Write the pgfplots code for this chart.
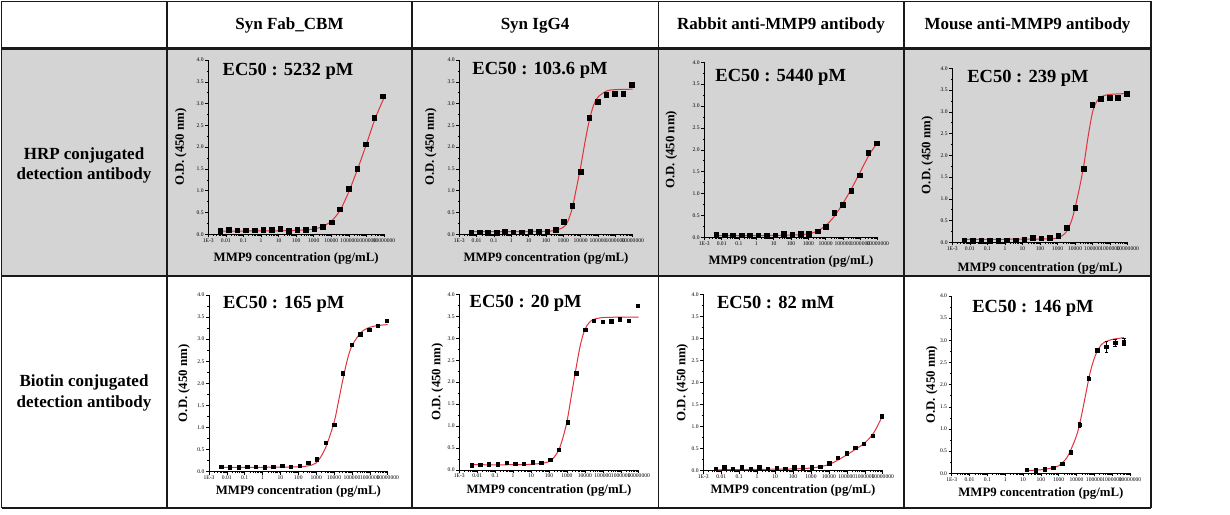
\documentclass[border=0pt]{standalone}
\usepackage{pgfplots}
\pgfplotsset{compat=1.18}
\usepackage{fontspec}
\setmainfont{Liberation Serif}
\definecolor{rowgray}{RGB}{212,212,212}
\definecolor{fitred}{RGB}{226,50,60}
\definecolor{tline}{RGB}{25,25,25}

\pgfplotsset{
  odplot/.style={
    scale only axis,
    xmin=1e-3, xmax=1e7, ymin=0, ymax=4,
    axis x line*=bottom, axis y line*=left,
    tick align=outside,
    xtick={1e-3,1e-2,1e-1,1,10,100,1000,1e4,1e5,1e6,1e7},
    xticklabels={1E-3,0.01,0.1,1,10,100,1000,10000,100000,1000000,10000000},
    minor xtick={2e-3,3e-3,4e-3,5e-3,6e-3,7e-3,8e-3,9e-3,
      2e-2,3e-2,4e-2,5e-2,6e-2,7e-2,8e-2,9e-2,
      0.2,0.3,0.4,0.5,0.6,0.7,0.8,0.9,
      2,3,4,5,6,7,8,9,
      20,30,40,50,60,70,80,90,
      200,300,400,500,600,700,800,900,
      2000,3000,4000,5000,6000,7000,8000,9000,
      2e4,3e4,4e4,5e4,6e4,7e4,8e4,9e4,
      2e5,3e5,4e5,5e5,6e5,7e5,8e5,9e5,
      2e6,3e6,4e6,5e6,6e6,7e6,8e6,9e6},
    ytick={0,0.5,1,1.5,2,2.5,3,3.5,4},
    yticklabel style={/pgf/number format/fixed,/pgf/number format/fixed zerofill,/pgf/number format/precision=1},
    tick label style={font=\fontsize{5.6}{6}\selectfont},
    xticklabel style={inner sep=1pt},
    yticklabel style={inner sep=1.5pt},
    major tick length=3pt, minor tick length=1.6pt,
    minor y tick num=1,
    axis line style={line width=0.7pt, black},
    every tick/.style={black, line width=0.5pt},
    xlabel={MMP9 concentration (pg/mL)},
    ylabel={O.D. (450 nm)},
    label style={font=\fontsize{12.8}{14}\selectfont\bfseries},
    xlabel style={at={(axis description cs:0.5,0)}, anchor=base},
    ylabel style={anchor=center},
    clip=false,
  },
  fitcurve/.style={fitred, line width=1pt, smooth, no markers},
  pts1/.style={only marks, mark=square*, mark size=2.3pt, black},
  pts2/.style={only marks, mark=square*, mark size=1.7pt, black},
}

\begin{document}
\begin{tikzpicture}
\useasboundingbox (0pt,0pt) rectangle (1230pt,514pt);
\fill[white] (0pt,0pt) rectangle (1230pt,514pt);
\fill[rowgray] (1.5pt,238pt) rectangle (1151pt,465pt);

% ---------- Row 1 ----------
\begin{semilogxaxis}[odplot, /pgf/number format/assume math mode=true, at={(208.3pt,279.7pt)}, anchor=south west, width=175.7pt, height=174.3pt,
  xlabel style={yshift=-27.4pt}, ylabel style={at={(axis description cs:-0.157,0.5)}}]
\addplot[fitcurve] coordinates {(0.004,0.07) (0.1,0.075) (10,0.08) (100,0.09) (1000,0.12) (3162,0.18) (10000,0.3) (31623,0.55) (100000,0.98) (316228,1.5) (1000000,2.07) (3162278,2.66) (10000000,3.13)};
\addplot[pts1] coordinates {(0.00479,0.08) (0.01469,0.10) (0.0451,0.09) (0.1380,0.09) (0.4236,0.09) (1.300,0.10) (3.990,0.10) (12.24,0.13) (37.50,0.08) (115.1,0.10) (353.2,0.10) (1084,0.13) (3326,0.17) (10190,0.28) (31260,0.58) (95940,1.05) (294400,1.51) (903600,2.07) (2773000,2.68) (8511000,3.17)};
\end{semilogxaxis}

\begin{semilogxaxis}[odplot, /pgf/number format/assume math mode=true, at={(459.3pt,279.7pt)}, anchor=south west, width=173.4pt, height=174.3pt,
  xlabel style={yshift=-27.4pt}, ylabel style={at={(axis description cs:-0.165,0.5)}}]
\addplot[fitcurve] coordinates {(0.004,0.06) (1,0.06) (100,0.07) (316.2,0.09) (1000,0.16) (1778,0.29) (3162,0.58) (5623,1.05) (10000,1.55) (17783,2.12) (31623,2.62) (56234,2.97) (100000,3.15) (316228,3.29) (1000000,3.32) (10000000,3.33)};
\addplot[pts1] coordinates {(0.00479,0.04) (0.01469,0.05) (0.0451,0.04) (0.1380,0.04) (0.4236,0.06) (1.300,0.05) (3.990,0.05) (12.24,0.07) (37.50,0.07) (115.1,0.07) (353.2,0.11) (1084,0.29) (3326,0.66) (10190,1.43) (31260,2.68) (95940,3.04) (294400,3.20) (903600,3.23) (2773000,3.23) (8511000,3.43)};
\end{semilogxaxis}

\begin{semilogxaxis}[odplot, /pgf/number format/assume math mode=true, at={(704.3pt,276.7pt)}, anchor=south west, width=173.4pt, height=175pt,
  xlabel style={yshift=-27.7pt}, ylabel style={at={(axis description cs:-0.19,0.5)}}]
\addplot[fitcurve] coordinates {(0.004,0.04) (1,0.04) (100,0.05) (1000,0.08) (3162,0.14) (10000,0.27) (31623,0.48) (100000,0.78) (316228,1.12) (1000000,1.5) (3162278,1.88) (8511000,2.13)};
\addplot[pts1] coordinates {(0.00479,0.07) (0.01469,0.05) (0.0451,0.05) (0.1380,0.05) (0.4236,0.05) (1.300,0.05) (3.990,0.04) (12.24,0.05) (37.50,0.08) (115.1,0.06) (353.2,0.08) (1084,0.08) (3326,0.14) (10190,0.24) (31260,0.56) (95940,0.75) (294400,1.07) (903600,1.42) (2773000,1.94) (8511000,2.15)};
\end{semilogxaxis}

\begin{semilogxaxis}[odplot, /pgf/number format/assume math mode=true, at={(952.3pt,271.7pt)}, anchor=south west, width=175.4pt, height=174pt,
  xlabel style={yshift=-29.4pt}, ylabel style={at={(axis description cs:-0.143,0.5)}}]
\addplot[fitcurve] coordinates {(0.004,0.07) (1,0.07) (100,0.075) (1000,0.1) (3162,0.24) (6310,0.5) (10000,0.8) (17783,1.25) (31623,1.78) (56234,2.45) (100000,3.0) (177828,3.25) (316228,3.35) (1000000,3.4) (10000000,3.42)};
\addplot[pts1] coordinates {(0.00479,0.05) (0.01469,0.03) (0.0451,0.04) (0.1380,0.04) (0.4236,0.04) (1.300,0.05) (3.990,0.05) (12.24,0.07) (37.50,0.10) (115.1,0.09) (353.2,0.11) (1084,0.15) (3326,0.33) (10190,0.80) (31260,1.69) (95940,3.17) (294400,3.30) (903600,3.33) (2773000,3.33) (8511000,3.41)};
\end{semilogxaxis}

% ---------- Row 2 ----------
\begin{semilogxaxis}[odplot, /pgf/number format/assume math mode=true, at={(209pt,42.3pt)}, anchor=south west, width=178.7pt, height=176.7pt,
  xlabel style={yshift=-22.3pt}, ylabel style={at={(axis description cs:-0.14,0.5)}}]
\addplot[fitcurve] coordinates {(0.004,0.1) (1,0.1) (100,0.11) (316.2,0.13) (1000,0.2) (3162,0.52) (10000,1.12) (17783,1.6) (31623,2.1) (56234,2.55) (100000,2.85) (316228,3.15) (1000000,3.27) (3162278,3.31) (10000000,3.33)};
\addplot[pts2] coordinates {(0.00479,0.11) (0.01469,0.10) (0.0451,0.10) (0.1380,0.11) (0.4236,0.11) (1.300,0.10) (3.990,0.11) (12.24,0.13) (37.50,0.12) (115.1,0.14) (353.2,0.20) (1084,0.28) (3326,0.66) (10190,1.07) (31260,2.23) (95940,2.87) (294400,3.11) (903600,3.22) (2773000,3.31) (8511000,3.42)};
\end{semilogxaxis}

\begin{semilogxaxis}[odplot, /pgf/number format/assume math mode=true, at={(459.3pt,44pt)}, anchor=south west, width=179.4pt, height=175.7pt,
  xlabel style={yshift=-23.3pt}, ylabel style={at={(axis description cs:-0.123,0.5)}}]
\addplot[fitcurve] coordinates {(0.004,0.12) (1,0.12) (10,0.13) (100,0.19) (316.2,0.42) (562.3,0.7) (1000,1.1) (1778,1.7) (3162,2.3) (5623,2.85) (10000,3.2) (17783,3.36) (31623,3.43) (100000,3.47) (1000000,3.48) (10000000,3.48)};
\addplot[pts2] coordinates {(0.00479,0.11) (0.01469,0.12) (0.0451,0.13) (0.1380,0.13) (0.4236,0.17) (1.300,0.14) (3.990,0.14) (12.24,0.18) (37.50,0.17) (115.1,0.24) (353.2,0.46) (1084,1.09) (3326,2.20) (10190,3.20) (31260,3.40) (95940,3.38) (294400,3.39) (903600,3.43) (2773000,3.40) (8511000,3.74)};
\end{semilogxaxis}

\begin{semilogxaxis}[odplot, /pgf/number format/assume math mode=true, at={(703.3pt,43.3pt)}, anchor=south west, width=179.4pt, height=176.4pt,
  xlabel style={yshift=-22.6pt}, ylabel style={at={(axis description cs:-0.117,0.5)}}]
\addplot[fitcurve] coordinates {(0.004,0.02) (1,0.03) (100,0.04) (1000,0.06) (3162,0.09) (10000,0.14) (31623,0.24) (100000,0.36) (316228,0.49) (1000000,0.63) (3162278,0.86) (10000000,1.25)};
\addplot[pts2] coordinates {(0.00479,0.05) (0.01469,0.08) (0.0451,0.05) (0.1380,0.08) (0.4236,0.05) (1.300,0.08) (3.990,0.05) (12.24,0.07) (37.50,0.05) (115.1,0.08) (353.2,0.08) (1084,0.08) (3326,0.09) (10190,0.17) (31260,0.30) (95940,0.40) (294400,0.52) (903600,0.61) (2773000,0.80) (8511000,1.24)};
\end{semilogxaxis}

\begin{semilogxaxis}[odplot, /pgf/number format/assume math mode=true, at={(951.7pt,40.7pt)}, anchor=south west, width=178.3pt, height=177.3pt,
  xlabel style={yshift=-22.7pt}, ylabel style={at={(axis description cs:-0.112,0.5)}}]
\addplot[fitcurve] coordinates {(16.2,0.06) (100,0.08) (316.2,0.11) (1000,0.17) (3162,0.38) (10000,0.85) (17783,1.25) (31623,1.75) (56234,2.25) (100000,2.6) (177828,2.82) (316228,2.94) (1000000,3.02) (4519000,3.06)};
\addplot[pts2, error bars/.cd, y dir=both, y explicit, error bar style={line width=0.5pt}] coordinates {
(16.2,0.08) +- (0,0.01)
(50.7,0.07) +- (0,0.01)
(158.5,0.09) +- (0,0.01)
(495.5,0.12) +- (0,0.01)
(1549,0.21) +- (0,0.02)
(4842,0.48) +- (0,0.02)
(15140,1.10) +- (0,0.05)
(47320,2.14) +- (0,0.05)
(147900,2.78) +- (0,0.05)
(462400,2.85) +- (0,0.12)
(1445000,2.95) +- (0,0.08)
(4519000,2.96) +- (0,0.08)};
\end{semilogxaxis}

% ---------- table lines ----------
\draw[tline, line width=1.5pt] (1.5pt,512.5pt) -- (1151pt,512.5pt);
\draw[tline, line width=3pt] (1.5pt,465pt) -- (1151pt,465pt);
\draw[tline, line width=1.3pt] (1.5pt,238pt) -- (1151pt,238pt);
\draw[tline, line width=1.5pt] (1.5pt,6pt) -- (1151pt,6pt);
\foreach \xx in {1.5,167,412,658.5,904,1151}{
  \draw[tline, line width=1.5pt] (\xx pt,6pt) -- (\xx pt,512.5pt);
}

% ---------- header texts ----------
\begin{scope}[every node/.style={anchor=base, inner sep=0pt, font=\fontsize{17}{20}\selectfont\bfseries}]
\node at (289.5pt,484.5pt) {Syn Fab\_CBM};
\node at (535pt,484.5pt) {Syn IgG4};
\node at (781pt,484.5pt) {Rabbit anti-MMP9 antibody};
\node at (1027.5pt,484.5pt) {Mouse anti-MMP9 antibody};
\node at (84pt,354.7pt) {HRP conjugated};
\node at (84pt,334pt) {detection antibody};
\node at (84pt,127.3pt) {Biotin conjugated};
\node at (84pt,106.3pt) {detection antibody};
\end{scope}

% ---------- EC50 texts ----------
\begin{scope}[every node/.style={anchor=base, inner sep=0pt, font=\fontsize{18.5}{21}\selectfont\bfseries}]
\node at (288pt,438pt) {EC50 : 5232 pM};
\node at (540pt,439pt) {EC50 : 103.6 pM};
\node at (780.7pt,432.3pt) {EC50 : 5440 pM};
\node at (1028pt,431.3pt) {EC50 : 239 pM};
\node at (283.7pt,205pt) {EC50 : 165 pM};
\node at (525.7pt,206.3pt) {EC50 : 20 pM};
\node at (775.7pt,205pt) {EC50 : 82 mM};
\node at (1033pt,201.7pt) {EC50 : 146 pM};
\end{scope}
\end{tikzpicture}
\end{document}
